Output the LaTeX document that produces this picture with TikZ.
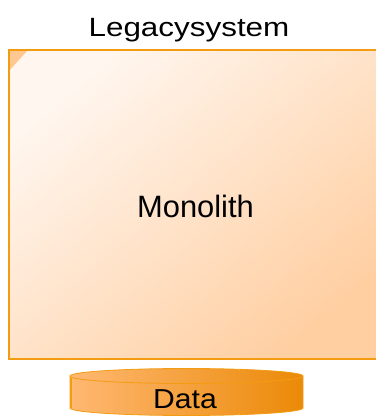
\documentclass[tikz,border=0pt]{standalone}
\usepackage{fontspec}
\setmainfont{Liberation Sans}
\usepackage{graphicx}
\definecolor{edge}{HTML}{F39C12}
\definecolor{boxlight}{HTML}{FFF6EF}
\definecolor{boxdark}{HTML}{FFCFA2}
\definecolor{corner}{HTML}{FFC890}
\definecolor{cyllight}{HTML}{FFB872}
\definecolor{cyldark}{HTML}{EB8A08}
\tikzset{
  lbl/.style={anchor=base, inner sep=0pt, text=black},
}
\begin{document}
\begin{tikzpicture}[x=1bp,y=1bp]
\useasboundingbox (0,0) rectangle (376,418);
% monolith box
\shade[top color=boxlight, bottom color=boxdark, shading angle=40]
  (9,59) rectangle (380,368);
\coordinate (mtl) at (9,368);
\fill[corner] (mtl) -- ++(19,0) -- ++(-19,-21) -- cycle;
\draw[edge, line width=1.5bp] (380,368) -- (mtl) -- (9,59) -- (380,59);
\node[lbl, font=\fontsize{31}{36}\selectfont] (mono) at (195.5,201) {Monolith};
\node[lbl, font=\fontsize{26.5}{30}\selectfont] (title) at (189,382) {\scalebox{1.19}[1]{Legacysystem}};
% cylinder
\shade[left color=cyllight, right color=cyldark]
  (70,42) -- (70,10) arc[start angle=180, end angle=360, x radius=116.5, y radius=7.5]
  -- (303,42) arc[start angle=0, end angle=180, x radius=116.5, y radius=7.5] -- cycle;
\draw[edge, line width=0.8bp]
  (70,42) -- (70,10) arc[start angle=180, end angle=360, x radius=116.5, y radius=7.5]
  -- (303,42) arc[start angle=0, end angle=180, x radius=116.5, y radius=7.5] -- cycle;
\draw[edge, line width=0.8bp] (70,42) arc[start angle=180, end angle=360, x radius=116.5, y radius=7.5];
\draw[edge, line width=2bp] (71,40) -- (71,10);
\node[lbl, font=\fontsize{27.5}{32}\selectfont] (data) at (185,10) {\scalebox{1.1}[1]{Data}};
\end{tikzpicture}
\end{document}
